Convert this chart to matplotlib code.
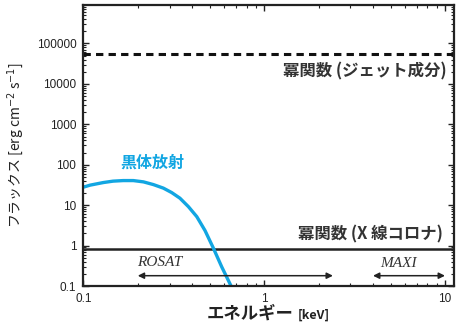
import matplotlib
matplotlib.use("Agg")
import matplotlib.pyplot as plt
import numpy as np

plt.rcParams['font.family'] = ['Liberation Sans', 'Noto Sans CJK JP', 'DejaVu Sans']

# blackbody spectrum (keV, erg cm^-2 s^-1)
bb_energy = [0.100, 0.109, 0.129, 0.146, 0.166, 0.189, 0.215, 0.244, 0.277,
             0.308, 0.342, 0.381, 0.424, 0.471, 0.524, 0.582, 0.656]
bb_flux = [27.9, 31.3, 36.3, 39.3, 40.6, 40.6, 37.7, 32.3, 26.4,
           20.5, 14.9, 9.2, 5.2, 2.35, 0.86, 0.30, 0.10]

# power-law levels
jet_flux = 5.5e4
corona_flux = 0.83

# instrument bands (keV)
rosat_band = [0.2, 2.4]
maxi_band = [4.0, 10.0]
band_flux = 0.18

jp = ['Noto Sans CJK JP', 'DejaVu Sans']
dark = '#222222'

fig = plt.figure(figsize=(4.58, 3.28), dpi=100)
ax = fig.add_axes([0.182, 0.128, 0.809, 0.857])
ax.set_xscale('log')
ax.set_yscale('log')
ax.set_xlim(0.1, 11.2)
ax.set_ylim(0.1, 9e5)

ax.axhline(jet_flux, color='#111111', lw=2.2, dashes=(2.4, 1.7))
ax.axhline(corona_flux, color=dark, lw=1.8)
ax.plot(bb_energy, bb_flux, color='#12a6e2', lw=2.4, solid_capstyle='butt')

for band in (rosat_band, maxi_band):
    ax.annotate('', xy=(band[1], band_flux), xytext=(band[0], band_flux),
                arrowprops=dict(arrowstyle='<|-|>', color=dark, lw=1.1,
                                mutation_scale=9, shrinkA=0, shrinkB=0))

ax.text(0.266, 0.38, 'ROSAT', family='Liberation Serif', style='italic',
        fontsize=11, color='#333333', ha='center', va='center')
ax.text(5.5, 0.37, 'MAXI', family='Liberation Serif', style='italic',
        fontsize=11, color='#333333', ha='center', va='center')

ax.text(10.26, 2.0e4, '冪関数 (ジェット成分)', family=jp, fontsize=11.8,
        fontweight='bold', color='#333333', ha='right', va='center')
ax.text(9.7, 1.84, '冪関数 (X 線コロナ)', family=jp, fontsize=11.8,
        fontweight='bold', color='#333333', ha='right', va='center')
ax.text(0.24, 111, '黒体放射', family=jp, fontsize=11.5,
        fontweight='bold', color='#12a6e2', ha='center', va='center')

ax.set_yticks([0.1, 1, 10, 100, 1000, 10000, 100000])
ax.set_yticklabels(['0.1', '1', '10', '100', '1000', '10000', '100000'])
ax.set_xticks([0.1, 1, 10])
ax.set_xticklabels(['0.1', '1', '10'])
ax.tick_params(which='both', direction='in', top=True, right=True,
               labelsize=8.5, labelcolor=dark, color=dark, pad=5)
ax.tick_params(which='major', length=4, width=1)
ax.tick_params(which='minor', length=2.5, width=0.8)
for sp in ax.spines.values():
    sp.set_linewidth(1.6)
    sp.set_color(dark)

fig.text(0.033, 0.557, 'フラックス [erg cm$^{-2}$ s$^{-1}$]', family=jp,
         fontsize=10, color=dark, rotation=90, ha='center', va='center')
fig.text(0.642, 0.043, 'エネルギー', family=jp, fontsize=12.5, color=dark,
         fontweight='bold', ha='right', va='center')
fig.text(0.651, 0.038, '[keV]', family=jp, fontsize=9, color=dark,
         fontweight='bold', ha='left', va='center')

fig.savefig('out.png', dpi=100)
